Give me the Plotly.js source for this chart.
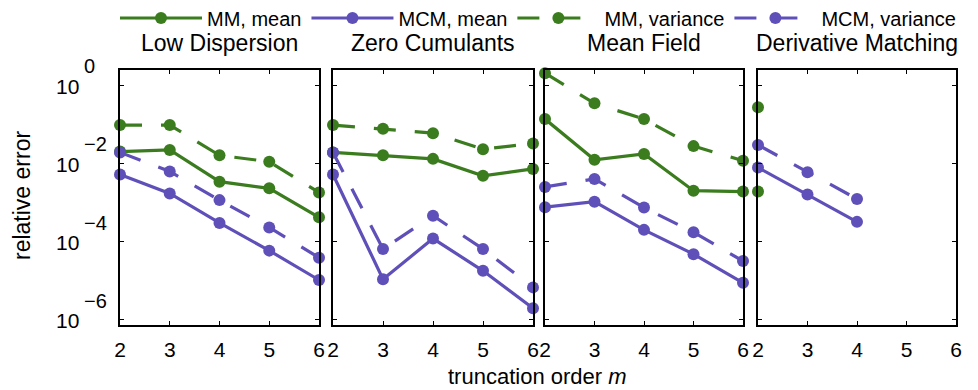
<!DOCTYPE html>
<html>
<head>
<meta charset="utf-8">
<script src="https://cdn.plot.ly/plotly-3.0.1.min.js"></script>
<style>html,body{margin:0;padding:0;background:#fff;}#chart{width:978px;height:390px;}</style>
</head>
<body>
<div id="chart"></div>
<script>
// truncation orders
const orders = [2, 3, 4, 5, 6];
const panelTitles = ["Low Dispersion", "Zero Cumulants", "Mean Field", "Derivative Matching"];
const seriesNames = ["MM, mean", "MCM, mean", "MM, variance", "MCM, variance"];
const yTickVals = [1, 1e-2, 1e-4, 1e-6];
const yTickBase = ["10", "10", "10", "10"];
const yTickExp = ["0", "−2", "−4", "−6"];

// Low Dispersion
const ldMMmean  = [2.0e-2, 2.2e-2, 3.4e-3, 2.3e-3, 4.2e-4];
const ldMCMmean = [5.2e-3, 1.7e-3, 3.0e-4, 5.9e-5, 1.05e-5];
const ldMMvar   = [9.5e-2, 9.5e-2, 1.6e-2, 1.1e-2, 1.8e-3];
const ldMCMvar  = [1.9e-2, 6.2e-3, 1.15e-3, 2.3e-4, 3.9e-5];
// Zero Cumulants
const zcMMmean  = [1.9e-2, 1.6e-2, 1.3e-2, 4.8e-3, 7.2e-3];
const zcMCMmean = [5.2e-3, 1.1e-5, 1.2e-4, 1.8e-5, 2.0e-6];
const zcMMvar   = [9.5e-2, 7.6e-2, 5.9e-2, 2.3e-2, 3.2e-2];
const zcMCMvar  = [1.9e-2, 6.5e-5, 4.6e-4, 6.5e-5, 6.8e-6];
// Mean Field
const mfMMmean  = [1.35e-1, 1.23e-2, 1.74e-2, 2.0e-3, 1.9e-3];
const mfMCMmean = [7.6e-4, 1.05e-3, 2.0e-4, 4.8e-5, 8.9e-6];
const mfMMvar   = [2.0, 3.4e-1, 1.35e-1, 2.75e-2, 1.17e-2];
const mfMCMvar  = [2.5e-3, 4.0e-3, 7.4e-4, 1.74e-4, 3.2e-5];
// Derivative Matching
const dmMMmean  = [1.9e-3, null, null, null, null];
const dmMCMmean = [7.8e-3, 1.6e-3, 3.2e-4, null, null];
const dmMMvar   = [2.7e-1, null, null, null, null];
const dmMCMvar  = [2.95e-2, 5.9e-3, 1.23e-3, null, null];

const panels = [
  [ldMMmean, ldMCMmean, ldMMvar, ldMCMvar],
  [zcMMmean, zcMCMmean, zcMMvar, zcMCMvar],
  [mfMMmean, mfMCMmean, mfMMvar, mfMCMvar],
  [dmMMmean, dmMCMmean, dmMMvar, dmMCMvar]
];

const GREEN = "#3b7c1e";
const PURPLE = "#5f50b9";
const colors = [GREEN, PURPLE, GREEN, PURPLE];
const dashes = ["solid", "solid", "22px,19px", "22px,19px"];

const W = 978, H = 390;
const xPix = [[120, 319], [333, 533], [545, 743], [758, 956]];
const yTop = 70, yBot = 325;
const yDom = [1 - yBot / H, 1 - yTop / H];
const FONT = "Liberation Sans, Arial, Helvetica, sans-serif";

const traces = [];
panels.forEach((series, p) => {
  series.forEach((vals, s) => {
    traces.push({
      x: orders, y: vals,
      type: "scatter", mode: "lines+markers",
      name: seriesNames[s],
      legendgroup: seriesNames[s],
      showlegend: p === 0,
      xaxis: p === 0 ? "x" : "x" + (p + 1),
      yaxis: p === 0 ? "y" : "y" + (p + 1),
      line: {color: colors[s], width: 3.2, dash: dashes[s]},
      marker: {color: colors[s], size: 12},
      cliponaxis: false,
      connectgaps: false
    });
  });
});

const layout = {
  width: W, height: H,
  margin: {l: 0, r: 0, t: 0, b: 0, autoexpand: false},
  paper_bgcolor: "#fff", plot_bgcolor: "#fff",
  font: {family: FONT, color: "#000", size: 20},
  showlegend: true,
  legend: {
    orientation: "h", x: 115 / W, xanchor: "left", y: 1 - 18 / H, yanchor: "middle",
    font: {family: FONT, size: 20, color: "#000"},
    itemwidth: 82, tracegroupgap: 0, bgcolor: "rgba(0,0,0,0)"
  },
  annotations: [],
  shapes: []
};

for (let p = 0; p < 4; p++) {
  const sfx = p === 0 ? "" : String(p + 1);
  layout["xaxis" + sfx] = {
    domain: [xPix[p][0] / W, xPix[p][1] / W],
    anchor: "y" + sfx,
    range: [2, 6],
    tickvals: orders,
    ticks: "inside", ticklen: 4, tickwidth: 1, tickcolor: "#000",
    showline: true, linecolor: "#000", linewidth: 2, mirror: "ticks",
    showgrid: false, zeroline: false, automargin: false,
    tickfont: {family: FONT, size: 21, color: "#000"},
    ticklabelstandoff: 5
  };
  layout["yaxis" + sfx] = {
    domain: yDom,
    anchor: "x" + sfx,
    type: "log",
    range: [-6.128, 0.383],
    tickvals: yTickVals,
    showticklabels: false,
    ticks: "inside", ticklen: 4, tickwidth: 1, tickcolor: "#000",
    showline: true, linecolor: "#000", linewidth: 2, mirror: "ticks",
    showgrid: false, zeroline: false, automargin: false
  };
  layout.annotations.push({
    text: panelTitles[p], xref: "paper", yref: "paper",
    x: (xPix[p][0] + xPix[p][1]) / 2 / W, y: 1 - 43 / H,
    xanchor: "center", yanchor: "middle", showarrow: false,
    font: {family: FONT, size: 23, color: "#000"}
  });
}

// y tick labels (MATLAB style: 10 with a raised, full-size exponent)
yTickVals.forEach((v, i) => {
  layout.annotations.push({
    text: yTickBase[i], xref: "paper", yref: "y", x: 81 / W, y: Math.log10(v),
    xanchor: "right", yanchor: "middle", yshift: -1, showarrow: false,
    font: {family: FONT, size: 21, color: "#000"}
  });
  layout.annotations.push({
    text: yTickExp[i], xref: "paper", yref: "y", x: 82 / W, y: Math.log10(v),
    xanchor: "left", yanchor: "middle", yshift: 19, showarrow: false,
    font: {family: FONT, size: 20, color: "#000"}
  });
});

layout.annotations.push({
  text: "relative error", xref: "paper", yref: "paper",
  x: 22 / W, y: 1 - 196 / H, xanchor: "center", yanchor: "middle", showarrow: false,
  textangle: -90,
  font: {family: FONT, size: 23, color: "#000"}
});
layout.annotations.push({
  text: "truncation order <i>m</i>", xref: "paper", yref: "paper",
  x: 537 / W, y: 1 - 376 / H, xanchor: "center", yanchor: "middle", showarrow: false,
  font: {family: FONT, size: 22, color: "#000"}
});

Plotly.newPlot("chart", traces, layout, {displayModeBar: false, staticPlot: true});
</script>
</body>
</html>
